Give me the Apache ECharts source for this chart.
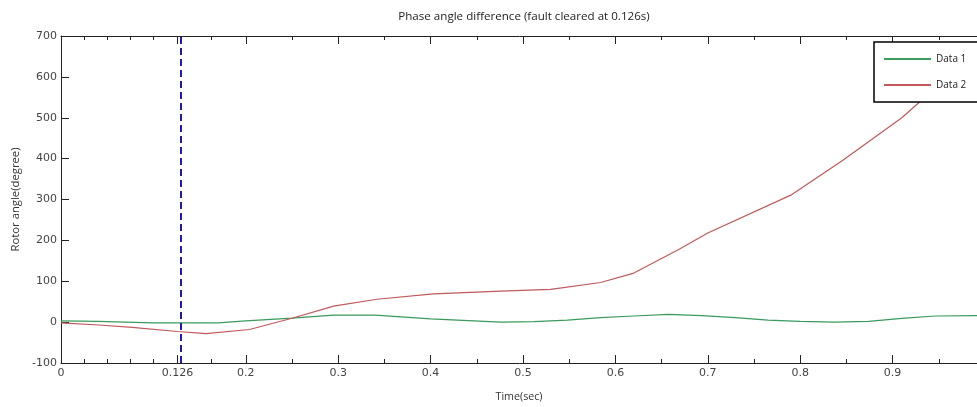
<!DOCTYPE html>
<html>
<head>
<meta charset="utf-8">
<script src="https://cdn.jsdelivr.net/npm/echarts@6/dist/echarts.min.js"></script>
<style>html,body{margin:0;padding:0;background:#fff}#c{width:977px;height:407px}</style>
</head>
<body>
<div id="c"></div>
<script>
// ---- data ----
const titleText = 'Phase angle difference (fault cleared at 0.126s)';
const xName = 'Time(sec)';
const yName = 'Rotor angle(degree)';
const clearedAt = 0.126;
const xMajorTicks = [0, 0.126, 0.2, 0.3, 0.4, 0.5, 0.6, 0.7, 0.8, 0.9, 1.0];
const xLabels = [0, 0.126, 0.2, 0.3, 0.4, 0.5, 0.6, 0.7, 0.8, 0.9];
const xMinorTicks = [0.025, 0.05, 0.075, 0.1, 0.163, 0.25, 0.35, 0.45, 0.55, 0.65, 0.75, 0.85, 0.95];
const data1Time = [0, 0.04, 0.1, 0.126, 0.17, 0.2, 0.25, 0.295, 0.34, 0.40, 0.476, 0.512, 0.548, 0.584, 0.62, 0.657, 0.693, 0.73, 0.765, 0.80, 0.837, 0.874, 0.91, 0.946, 0.99, 1.0];
const data1Value = [3, 2, -2, -2, -2, 3, 10, 17, 17, 8, 0, 1, 5, 11, 15, 19, 16, 11, 5, 2, 0, 2, 9, 15, 16, 16];
const data2Time = [0, 0.041, 0.077, 0.126, 0.157, 0.204, 0.251, 0.295, 0.342, 0.403, 0.476, 0.53, 0.584, 0.62, 0.668, 0.70, 0.791, 0.845, 0.91, 0.935, 0.96, 1.0];
const data2Value = [-2, -7, -13, -23, -28, -18, 10, 39, 56, 69, 76, 80, 97, 120, 177, 218, 312, 394, 500, 550, 600, 680];

const zip = (t, v) => t.map((x, i) => [x, v[i]]);
const axisColor = '#222';
const labelFont = { fontFamily: 'DejaVu Sans', fontSize: 11, color: '#444' };

function xAx(pos, ticks, len, showLine, labels) {
  return {
    type: 'value', position: pos, min: 0, max: 1,
    splitLine: { show: false },
    axisLine: { show: showLine, onZero: false, lineStyle: { color: axisColor, width: 1 } },
    axisTick: { show: true, inside: true, length: len, customValues: ticks, lineStyle: { color: axisColor } },
    axisLabel: labels ? Object.assign({ show: true, margin: 5, customValues: labels, formatter: v => String(v) }, labelFont) : { show: false },
    name: labels ? xName : '',
    nameLocation: 'middle', nameGap: 28,
    nameTextStyle: { fontFamily: 'Open Sans', fontSize: 10.7, color: '#333', padding: [0, 8, 0, 0] }
  };
}
function yAx(pos, labels) {
  return {
    type: 'value', position: pos, min: -100, max: 700, interval: 100,
    splitLine: { show: false },
    axisLine: { show: true, onZero: false, lineStyle: { color: axisColor, width: 1 } },
    axisTick: { show: true, inside: true, length: 8, lineStyle: { color: axisColor } },
    axisLabel: labels ? Object.assign({ show: true, margin: 4 }, labelFont) : { show: false },
    name: labels ? yName : '',
    nameLocation: 'middle', nameGap: 38,
    nameTextStyle: { fontFamily: 'Open Sans', fontSize: 11.3, color: '#333' }
  };
}

const chart = echarts.init(document.getElementById('c'), null, { renderer: 'canvas' });
chart.setOption({
  animation: false,
  backgroundColor: '#fff',
  title: {
    text: titleText, left: 519, top: 6, textAlign: 'center',
    textStyle: { fontFamily: 'Open Sans', fontSize: 11.6, fontWeight: 'normal', color: '#222' }
  },
  grid: { left: 61, width: 924, top: 36, bottom: 44, outerBoundsMode: 'none', containLabel: false },
  legend: {
    orient: 'vertical', left: 874, top: 42,
    data: [{ name: 'Data 1', icon: 'rect' }, { name: 'Data 2', icon: 'rect' }],
    backgroundColor: '#fff', borderColor: '#000', borderWidth: 1.5, borderRadius: 0,
    padding: [10, 60, 10, 10], itemWidth: 47, itemHeight: 2, itemGap: 12, itemTextGap: 5,
    textStyle: { fontFamily: 'Open Sans', fontSize: 10, color: '#222', lineHeight: 14 }
  },
  xAxis: [
    xAx('bottom', xMajorTicks, 8, true, xLabels),
    xAx('bottom', xMinorTicks, 4, false, null),
    xAx('top', xMajorTicks, 8, true, null),
    xAx('top', xMinorTicks, 4, false, null)
  ],
  yAxis: [yAx('left', true), yAx('right', false)],
  series: [
    {
      name: 'Data 1', type: 'line', xAxisIndex: 0, yAxisIndex: 0,
      data: zip(data1Time, data1Value), symbol: 'none', showSymbol: false,
      lineStyle: { color: '#3a9a5c', width: 1.2 }, itemStyle: { color: '#3a9a5c' },
      z: 3,
      markLine: {
        silent: true, symbol: ['none', 'none'], label: { show: false },
        lineStyle: { color: '#1c1caa', type: [7, 4], width: 2 },
        data: [{ xAxis: clearedAt }]
      }
    },
    {
      name: 'Data 2', type: 'line', xAxisIndex: 0, yAxisIndex: 0,
      data: zip(data2Time, data2Value), symbol: 'none', showSymbol: false,
      lineStyle: { color: '#c0585c', width: 1.2 }, itemStyle: { color: '#c0585c' },
      z: 3
    }
  ]
});
</script>
</body>
</html>
